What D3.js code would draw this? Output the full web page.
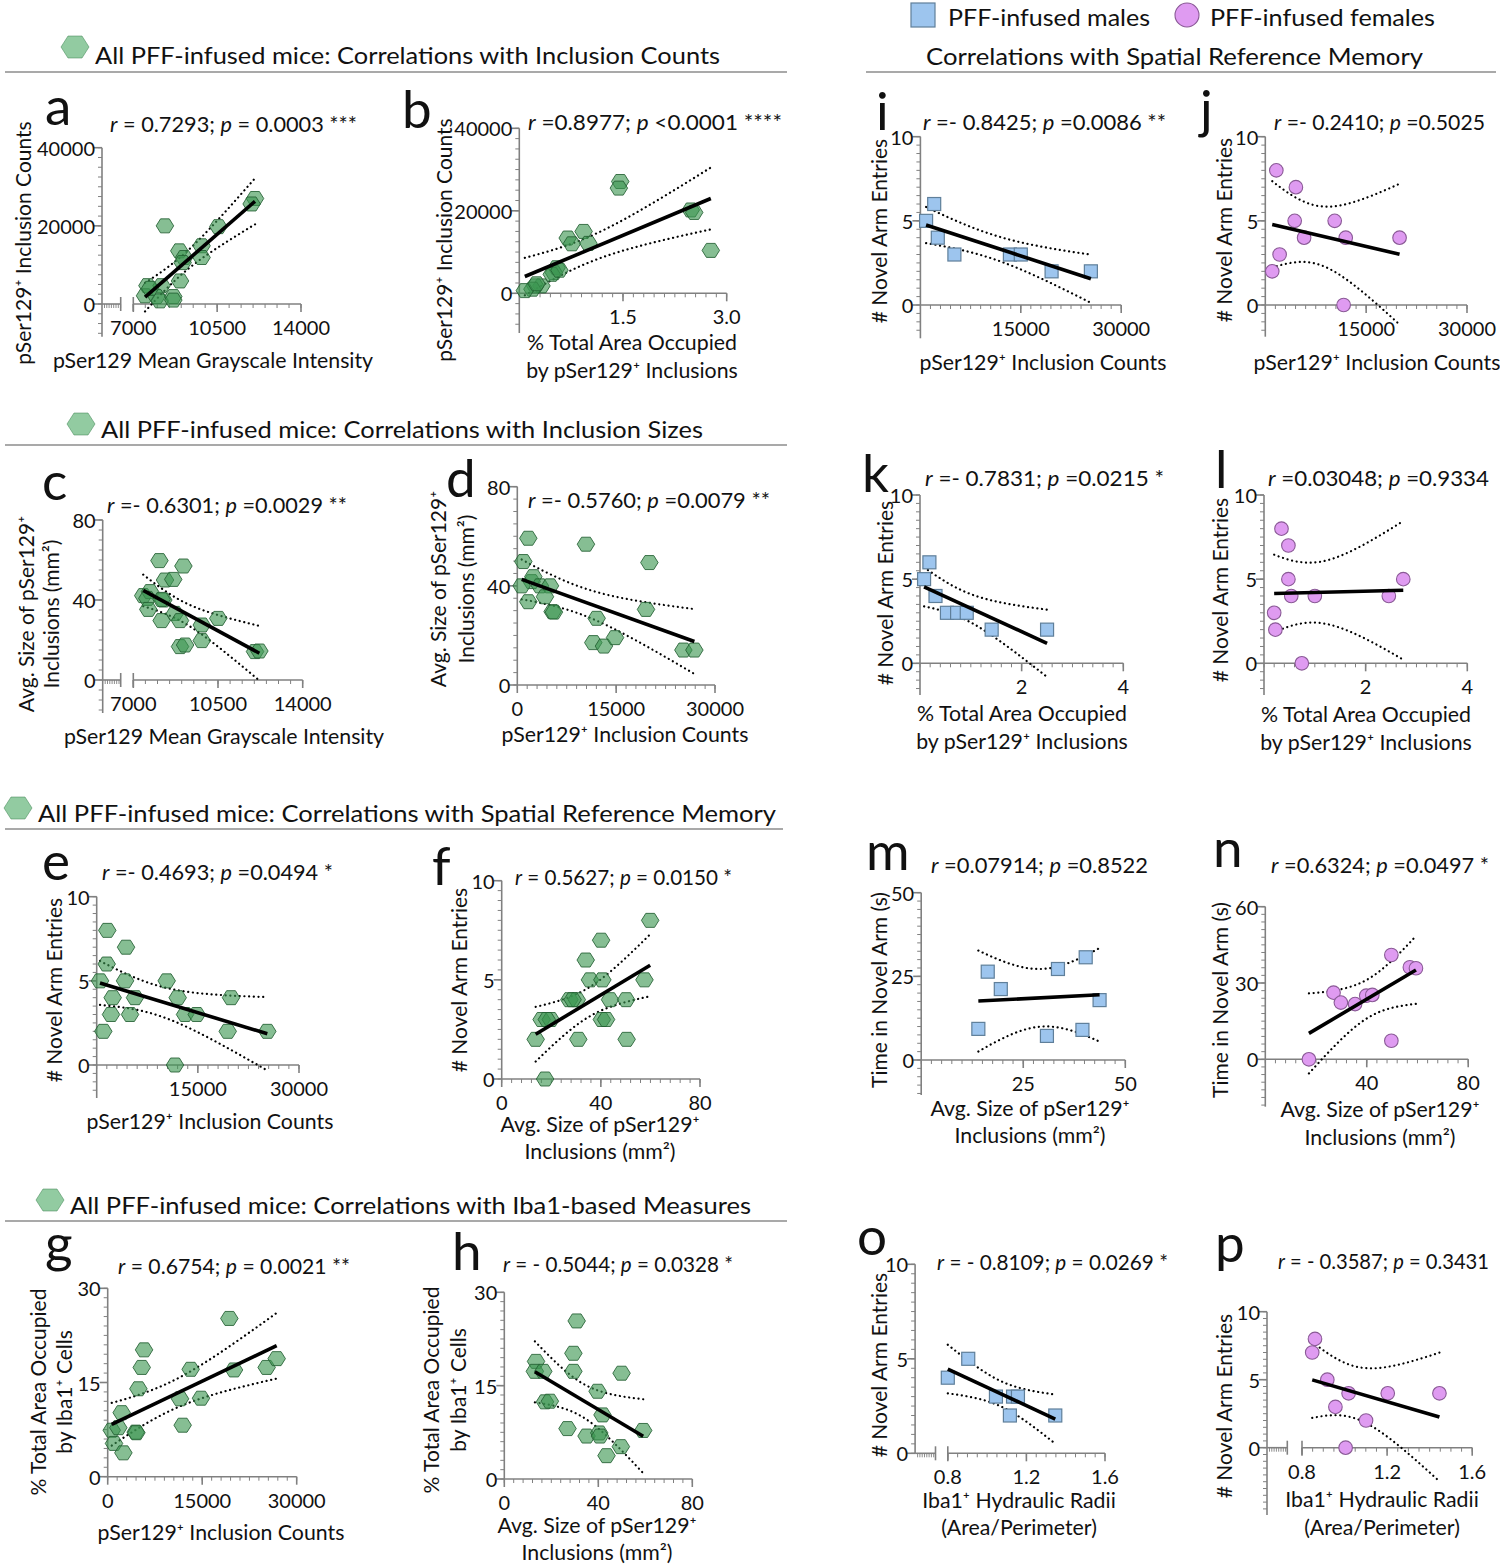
<!DOCTYPE html>
<html>
<head>
<meta charset="utf-8">
<script src="https://cdn.jsdelivr.net/npm/d3@7"></script>
<style>
  body { margin: 0; background: #fff; }
  svg text { font-family: Lato, "Open Sans", sans-serif; fill: #111; }
  .ax { stroke: #808080; stroke-width: 1.6; fill: none; }
</style>
</head>
<body>
<svg id="fig" width="1500" height="1565"></svg>
<script>
// ---- data ----
const aX = [12080, 11940, 8320, 10550, 9850, 8920, 9120, 9850, 9060, 8950, 7590, 8180, 7490, 7970, 8110, 8670, 8670, 7700];
const aY = [27000, 25600, 20000, 19800, 14900, 13600, 11900, 11900, 10600, 5900, 4700, 4700, 2100, 1900, 800, 1900, 1000, 4000];

const bX = [1.46, 1.44, 2.48, 2.53, 2.77, 0.93, 0.70, 0.76, 1.00, 0.54, 0.50, 0.47, 0.32, 0.23, 0.19, 0.08, 0.25, 0.58];
const bY = [27100, 25500, 20200, 19600, 10400, 15000, 13400, 12000, 12100, 6200, 5000, 4600, 1800, 1800, 1000, 650, 2300, 5600];

const cX = [8080, 9070, 8310, 8650, 7410, 7690, 7580, 8240, 8170, 7620, 8170, 8720, 8930, 9830, 10510, 9830, 8930, 9140, 12030, 12210];
const cY = [59.7, 57, 50, 50.3, 42.2, 44.2, 40.8, 40, 40.3, 35.3, 29.7, 33.3, 29.7, 27.5, 30.8, 19.7, 16.7, 17.5, 14.2, 14.5];

const dX = [1670, 10420, 20040, 910, 2180, 2430, 660, 1670, 3440, 4960, 4200, 5360, 5560, 12040, 11530, 13150, 14830, 19530, 25200, 26870];
const dY = [59.2, 56.8, 49.4, 49.8, 41.7, 43.7, 40, 33.6, 40, 40, 35.6, 29.6, 29.4, 26.9, 17.1, 15.7, 19.1, 30.5, 14.1, 14.1];

const eX = [1570, 4350, 1480, 490, 4200, 10380, 2370, 5680, 12010, 19920, 2120, 4940, 13100, 14830, 980, 19430, 25300, 11610];
const eY = [8, 7, 6, 5, 5, 5, 4, 4, 4, 4, 3, 3, 3, 3, 2, 2, 2, 0];

const fX = [59.9, 40.1, 33.9, 35.6, 40.6, 57.6, 27.3, 30.3, 28.6, 43.7, 50.2, 16.1, 19.8, 18.2, 40.4, 42.1, 13.7, 30.9, 50.4, 17.5];
const fY = [8, 7, 6, 5, 5, 5, 4, 4, 4, 4, 4, 3, 3, 3, 3, 3, 2, 2, 2, 0];

const gX = [19310, 5770, 5400, 13170, 20050, 25230, 26820, 4870, 11480, 14810, 2220, 640, 1690, 4440, 4550, 11900, 1000, 2490];
const gY = [25.2, 20.2, 17.4, 17.1, 17, 17.4, 18.8, 14, 12.4, 12.5, 10.2, 7.4, 7.8, 7.1, 7.0, 8.2, 5.3, 3.8];

const hX = [30.8, 29.4, 13.5, 13.0, 16.6, 29.4, 49.9, 39.7, 17.3, 19.4, 41.8, 26.9, 59.1, 35.0, 40.4, 40.7, 49.6, 43.5];
const hY = [25.4, 20.2, 18.9, 17.3, 17.3, 17.3, 17, 14.1, 12.4, 12.5, 10.3, 8.1, 7.8, 6.9, 7.4, 6.9, 5.2, 3.75];

const iX = [2060, 850, 2600, 5080, 13370, 15000, 19600, 25470];
const iY = [6, 5, 4, 3, 3, 3, 2, 2];

const jX = [1640, 4550, 4370, 10320, 5770, 11960, 19970, 2130, 1030, 11650];
const jY = [8, 7, 5, 5, 4, 4, 4, 3, 2, 0];

const kX = [0.185, 0.08, 0.305, 0.53, 0.73, 0.92, 1.41, 2.50];
const kY = [6, 5, 4, 3, 3, 3, 2, 2];

const lX = [0.344, 0.48, 0.48, 2.74, 0.536, 1.0, 2.456, 0.2, 0.224, 0.744];
const lY = [8, 7, 5, 5, 4, 4, 4, 3, 2, 0];

const mX = [14.0, 16.3, 19.5, 30.8, 33.5, 39.5, 40.3, 43.7];
const mY = [9.3, 26.4, 21.2, 7.2, 27.2, 9.0, 30.7, 17.9];

const nX = [17.2, 26.9, 29.8, 35.4, 39.8, 42.2, 49.7, 49.7, 57.0, 59.4];
const nY = [0, 26.2, 22.3, 21.7, 25.0, 25.3, 41.0, 7.3, 36.2, 35.8];

const oX = [0.80, 0.904, 1.045, 1.132, 1.157, 1.116, 1.347];
const oY = [4, 5, 3, 3, 3, 2, 2];

const pX = [0.861, 0.848, 0.919, 1.019, 1.203, 1.446, 0.957, 1.101, 1.005];
const pY = [8, 7, 5, 4, 4, 4, 3, 2, 0];

// tick labels
const ticksGray = [7000, 10500, 14000];
const ticksCounts = [0, 15000, 30000];
const ticksCountsNoZero = [15000, 30000];
const ticksCountsY = [0, 20000, 40000];
const ticksArea = [1.5, 3.0];
const ticksArea4 = [2, 4];
const ticksSize = [0, 40, 80];
const ticksSize50 = [25, 50];
const ticksSizeN = [40, 80];
const ticksEntries = [0, 5, 10];
const ticksIba = [0, 15, 30];
const ticksTime50 = [0, 25, 50];
const ticksTime60 = [0, 30, 60];
const ticksRadii = [0.8, 1.2, 1.6];

// two-sided 95% t values by df
const T975 = [NaN, 12.706, 4.303, 3.182, 2.776, 2.571, 2.447, 2.365, 2.306, 2.262, 2.228,
  2.201, 2.179, 2.160, 2.145, 2.131, 2.120, 2.110, 2.101, 2.093, 2.086, 2.080];

const svg = d3.select('#fig');

const C_HEX = 'rgba(60,150,80,0.62)', C_HEXS = 'rgba(35,95,50,0.85)';
const C_SQ = '#9dc5ee', C_SQS = '#5f7f9a';
const C_CI = '#df9bf1', C_CIS = '#8a5a96';

function hexPath(w, h) {
  return `M${-w/2},0L${-w/4},${-h/2}L${w/4},${-h/2}L${w/2},0L${w/4},${h/2}L${-w/4},${h/2}Z`;
}

function regress(xs, ys) {
  const n = xs.length, mx = d3.mean(xs), my = d3.mean(ys);
  let sxx = 0, sxy = 0;
  for (let i = 0; i < n; i++) { sxx += (xs[i]-mx)**2; sxy += (xs[i]-mx)*(ys[i]-my); }
  const b = sxy/sxx, a = my - b*mx;
  let sse = 0;
  for (let i = 0; i < n; i++) sse += (ys[i] - a - b*xs[i])**2;
  return {a, b, n, mx, sxx, s: Math.sqrt(sse/(n-2)), t: T975[n-2]};
}

function panel(p) {
  const g = svg.append('g');
  const x = d3.scaleLinear().domain(p.xd).range(p.xr);
  const y = d3.scaleLinear().domain(p.yd).range(p.yr);
  const ax = p.ax, y0 = y(0), yTop = y(p.yd[1]);
  const yBot = p.yBot || y0;

  // y axis
  g.append('line').attr('class','ax').attr('x1',ax).attr('x2',ax).attr('y1',yTop).attr('y2',yBot);
  const yLow = y.invert(yBot);
  const ym = d3.range(Math.ceil(yLow/p.ym - 1e-6)*p.ym, p.yd[1] + p.ym/2, p.ym);
  g.selectAll(null).data(ym).enter().append('line').attr('class','ax')
    .attr('x1', ax).attr('x2', ax-4).attr('y1', d => y(d)).attr('y2', d => y(d)).style('stroke-width',1);
  g.selectAll(null).data(p.yt).enter().append('line').attr('class','ax')
    .attr('x1', ax).attr('x2', ax-8).attr('y1', d => y(d)).attr('y2', d => y(d));
  g.selectAll(null).data(p.yt).enter().append('text')
    .attr('x', ax-7).attr('y', d => y(d)).attr('text-anchor','end').attr('dominant-baseline','central')
    .attr('font-size', 20).text(d => p.fy ? p.fy(d) : d);

  // x axis
  const xs0 = p.brk ? x(p.xd[0]) : ax;
  if (p.brk) {
    g.append('line').attr('class','ax').attr('x1',ax).attr('x2',p.brk).attr('y1',y0).attr('y2',y0);
    g.selectAll(null).data(d3.range(ax+2.5, p.brk, 2.3)).enter().append('line').attr('class','ax')
      .attr('x1', d => d).attr('x2', d => d).attr('y1', y0).attr('y2', y0+4).style('stroke-width',0.9);
    g.append('line').attr('class','ax').attr('x1',p.brk).attr('x2',p.brk).attr('y1',y0-7).attr('y2',y0+7);
    g.append('line').attr('class','ax').attr('x1',xs0).attr('x2',xs0).attr('y1',y0-7).attr('y2',y0+7);
  }
  g.append('line').attr('class','ax').attr('x1',xs0).attr('x2',x(p.xd[1])).attr('y1',y0).attr('y2',y0);
  const xm = d3.range(Math.ceil(p.xd[0]/p.xm - 1e-6)*p.xm, p.xd[1] + p.xm/2, p.xm)
    .filter(d => x(d) >= xs0 - 0.5);
  g.selectAll(null).data(xm).enter().append('line').attr('class','ax')
    .attr('x1', d => x(d)).attr('x2', d => x(d)).attr('y1', y0).attr('y2', y0+4).style('stroke-width',1);
  g.selectAll(null).data(p.xt).enter().append('line').attr('class','ax')
    .attr('x1', d => x(d)).attr('x2', d => x(d)).attr('y1', y0).attr('y2', y0+8);
  g.selectAll(null).data(p.xt).enter().append('text')
    .attr('x', d => x(d)).attr('y', y0+23).attr('text-anchor','middle').attr('dominant-baseline','central')
    .attr('font-size', 20).text(d => p.fx ? p.fx(d) : d);

  // regression line with 95% confidence band
  const r = regress(p.xs, p.ys);
  const [lo, hi] = d3.extent(p.xs);
  const samp = d3.range(0, 41).map(i => lo + (hi-lo)*i/40);
  const band = (xv, sgn) => r.a + r.b*xv + sgn*r.t*r.s*Math.sqrt(1/r.n + (xv-r.mx)**2/r.sxx);
  const ln = d3.line().x(d => x(d[0])).y(d => y(d[1]));
  [1, -1].forEach(sgn => {
    g.append('path').attr('d', ln(samp.map(v => [v, band(v, sgn)])))
      .attr('fill','none').attr('stroke','#000').attr('stroke-width',2.2)
      .attr('stroke-linecap','round').attr('stroke-dasharray','0.1,4.6');
  });

  // markers
  const pts = p.xs.map((v, i) => [v, p.ys[i]]);
  if (p.mk === 'hex') {
    g.selectAll(null).data(pts).enter().append('path')
      .attr('d', hexPath(17.5, 14)).attr('transform', d => `translate(${x(d[0])},${y(d[1])})`)
      .attr('fill', C_HEX).attr('stroke', C_HEXS).attr('stroke-width', 1);
  } else if (p.mk === 'sq') {
    g.selectAll(null).data(pts).enter().append('rect')
      .attr('x', d => x(d[0]) - 6.5).attr('y', d => y(d[1]) - 6.5).attr('width', 13).attr('height', 13)
      .attr('fill', C_SQ).attr('stroke', C_SQS).attr('stroke-width', 1.2);
  } else {
    g.selectAll(null).data(pts).enter().append('circle')
      .attr('cx', d => x(d[0])).attr('cy', d => y(d[1])).attr('r', 6.8)
      .attr('fill', C_CI).attr('stroke', C_CIS).attr('stroke-width', 1.1);
  }
  g.append('path').attr('d', ln([[lo, r.a + r.b*lo], [hi, r.a + r.b*hi]]))
    .attr('stroke','#000').attr('stroke-width',3.6).attr('fill','none');

  // panel letter
  g.append('text').attr('x', p.let[0]).attr('y', p.let[1]).attr('font-size', 53).text(p.id);

  // statistics
  const st = g.append('text').attr('x', p.st[0]).attr('y', p.st[1]).attr('dominant-baseline','central')
    .attr('font-size', 20.5).attr('textLength', p.st[2]).attr('lengthAdjust','spacingAndGlyphs');
  st.append('tspan').attr('font-style','italic').text('r');
  st.append('tspan').text(' ' + p.stat[0] + ' ');
  st.append('tspan').attr('font-style','italic').text('p');
  st.append('tspan').text(' ' + p.stat[1]);

  // axis titles
  p.yTitle.forEach(([tx, s]) => {
    g.append('text').attr('transform', `translate(${tx},${p.yTitleY}) rotate(-90)`)
      .attr('text-anchor','middle').attr('dominant-baseline','central').attr('font-size', 21).text(s);
  });
  p.xTitle.forEach((s, i) => {
    g.append('text').attr('x', p.xTitleX).attr('y', p.xTitleYs[i])
      .attr('text-anchor','middle').attr('dominant-baseline','central').attr('font-size', 21.3).text(s);
  });
}

const f1 = d3.format('.1f');
const T_COUNTS = 'pSer129⁺ Inclusion Counts';
const T_GRAY = 'pSer129 Mean Grayscale Intensity';
const T_AREA = ['% Total Area Occupied', 'by pSer129⁺ Inclusions'];
const T_SIZE = ['Avg. Size of pSer129⁺', 'Inclusions (mm²)'];
const T_ENTR = '# Novel Arm Entries';
const T_IBA = ['% Total Area Occupied', 'by Iba1⁺ Cells'];
const T_RAD = ['Iba1⁺ Hydraulic Radii', '(Area/Perimeter)'];

const panels = [
  {id:'a', xs:aX, ys:aY, mk:'hex', xd:[7000,14000], xr:[133.3,301], yd:[0,40000], yr:[304,147.7], ax:102, yBot:336.7, brk:120.7,
   xt:ticksGray, yt:ticksCountsY, xm:500, ym:2500, let:[45,125], stat:['= 0.7293;','= 0.0003 ***'], st:[110,124,247],
   yTitle:[[22,T_COUNTS]], yTitleY:243, xTitle:[T_GRAY], xTitleX:213, xTitleYs:[360]},
  {id:'b', xs:bX, ys:bY, mk:'hex', xd:[0,3], xr:[519.3,726.7], yd:[0,40000], yr:[293.3,128.3], ax:519.3, yBot:333,
   xt:ticksArea, yt:ticksCountsY, xm:0.15, ym:2500, fx:f1, let:[402,128], stat:['=0.8977; ','<0.0001 ****'], st:[528,122,254],
   yTitle:[[443,T_COUNTS]], yTitleY:240, xTitle:T_AREA, xTitleX:632, xTitleYs:[342,370]},
  {id:'c', xs:cX, ys:cY, mk:'hex', xd:[7000,14000], xr:[133.3,302.7], yd:[0,80], yr:[680,520], ax:102.7, yBot:713, brk:120.7,
   xt:ticksGray, yt:ticksSize, xm:500, ym:5, let:[42,500], stat:['=- 0.6301;','=0.0029 **'], st:[107,505,240],
   yTitle:[[25,T_SIZE[0]],[50,T_SIZE[1]]], yTitleY:614, xTitle:[T_GRAY], xTitleX:224, xTitleYs:[736]},
  {id:'d', xs:dX, ys:dY, mk:'hex', xd:[0,30000], xr:[517.3,715], yd:[0,80], yr:[685,486.7], ax:517.3,
   xt:ticksCounts, yt:ticksSize, xm:1500, ym:5, let:[446,497], stat:['=- 0.5760; ','=0.0079 **'], st:[528,500,242],
   yTitle:[[437,T_SIZE[0]],[465,T_SIZE[1]]], yTitleY:589, xTitle:[T_COUNTS], xTitleX:625, xTitleYs:[734]},
  {id:'e', xs:eX, ys:eY, mk:'hex', xd:[0,30000], xr:[96.7,299], yd:[0,10], yr:[1065,896.7], ax:96.7, yBot:1098,
   xt:ticksCountsNoZero, yt:ticksEntries, xm:1500, ym:0.5, let:[42,880], stat:['=- 0.4693; ','=0.0494 *'], st:[102,872,231],
   yTitle:[[53,T_ENTR]], yTitleY:990, xTitle:[T_COUNTS], xTitleX:210, xTitleYs:[1121]},
  {id:'f', xs:fX, ys:fY, mk:'hex', xd:[0,80], xr:[501.7,700], yd:[0,10], yr:[1079,880.7], ax:501.7,
   xt:ticksSize, yt:ticksEntries, xm:4, ym:0.5, let:[432,885], stat:['= 0.5627;','= 0.0150 *'], st:[515,877,217],
   yTitle:[[458,T_ENTR]], yTitleY:980, xTitle:T_SIZE, xTitleX:600, xTitleYs:[1124,1151]},
  {id:'g', xs:gX, ys:gY, mk:'hex', xd:[0,30000], xr:[107.7,296.7], yd:[0,30], yr:[1476.7,1288.3], ax:107.7,
   xt:ticksCounts, yt:ticksIba, xm:1500, ym:1.5, let:[45,1262], stat:['= 0.6754;','= 0.0021 **'], st:[118,1266,232],
   yTitle:[[37,T_IBA[0]],[63,T_IBA[1]]], yTitleY:1392, xTitle:[T_COUNTS], xTitleX:221, xTitleYs:[1532]},
  {id:'h', xs:hX, ys:hY, mk:'hex', xd:[0,80], xr:[504.3,692.3], yd:[0,30], yr:[1479,1292.3], ax:504.3,
   xt:ticksSize, yt:ticksIba, xm:4, ym:1.5, let:[452,1270], stat:['= - 0.5044;','= 0.0328 *'], st:[503,1264,230],
   yTitle:[[430,T_IBA[0]],[457,T_IBA[1]]], yTitleY:1390, xTitle:T_SIZE, xTitleX:597, xTitleYs:[1525,1552]},
  {id:'i', xs:iX, ys:iY, mk:'sq', xd:[0,30000], xr:[920.4,1121.2], yd:[0,10], yr:[305,136.7], ax:920.4, yBot:338.3,
   xt:ticksCountsNoZero, yt:ticksEntries, xm:1500, ym:0.5, let:[876,130], stat:['=- 0.8425;','=0.0086 **'], st:[923,122,243],
   yTitle:[[878,T_ENTR]], yTitleY:231, xTitle:[T_COUNTS], xTitleX:1043, xTitleYs:[362]},
  {id:'j', xs:jX, ys:jY, mk:'ci', xd:[0,30000], xr:[1265.3,1467], yd:[0,10], yr:[305,136.7], ax:1265.3, yBot:336.7,
   xt:ticksCountsNoZero, yt:ticksEntries, xm:1500, ym:0.5, let:[1200,128], stat:['=- 0.2410;','=0.5025'], st:[1274,122,211],
   yTitle:[[1223,T_ENTR]], yTitleY:230, xTitle:[T_COUNTS], xTitleX:1377, xTitleYs:[362]},
  {id:'k', xs:kX, ys:kY, mk:'sq', xd:[0,4], xr:[920,1123.3], yd:[0,10], yr:[663.3,495], ax:920, yBot:695,
   xt:ticksArea4, yt:ticksEntries, xm:0.2, ym:0.5, let:[862,492], stat:['=- 0.7831; ','=0.0215 *'], st:[925,478,239],
   yTitle:[[884,T_ENTR]], yTitleY:593, xTitle:T_AREA, xTitleX:1022, xTitleYs:[713,741]},
  {id:'l', xs:lX, ys:lY, mk:'ci', xd:[0,4], xr:[1264,1467.3], yd:[0,10], yr:[663.3,495], ax:1264, yBot:695,
   xt:ticksArea4, yt:ticksEntries, xm:0.2, ym:0.5, let:[1215,488], stat:['=0.03048; ','=0.9334'], st:[1268,478,221],
   yTitle:[[1219,T_ENTR]], yTitleY:590, xTitle:T_AREA, xTitleX:1366, xTitleYs:[714,742]},
  {id:'m', xs:mX, ys:mY, mk:'sq', xd:[0,50], xr:[921.2,1125.3], yd:[0,50], yr:[1060,892.7], ax:921.2, yBot:1095,
   xt:ticksSize50, yt:ticksTime50, xm:2.5, ym:2.5, let:[866,870], stat:['=0.07914; ','=0.8522'], st:[931,865,217],
   yTitle:[[878,'Time in Novel Arm (s)']], yTitleY:990, xTitle:T_SIZE, xTitleX:1030, xTitleYs:[1108,1135]},
  {id:'n', xs:nX, ys:nY, mk:'ci', xd:[0,80], xr:[1265.3,1468.2], yd:[0,60], yr:[1059.3,906.7], ax:1265.3, yBot:1106.7,
   xt:ticksSizeN, yt:ticksTime60, xm:4, ym:3, let:[1213,867], stat:['=0.6324;','=0.0497 *'], st:[1271,865,218],
   yTitle:[[1219,'Time in Novel Arm (s)']], yTitleY:1000, xTitle:T_SIZE, xTitleX:1380, xTitleYs:[1109,1137]},
  {id:'o', xs:oX, ys:oY, mk:'sq', xd:[0.8,1.6], xr:[947.8,1105], yd:[0,10], yr:[1453.3,1264.3], ax:915.1, brk:935.5,
   xt:ticksRadii, yt:ticksEntries, xm:0.05, ym:0.5, fx:f1, let:[857,1255], stat:['= - 0.8109;','= 0.0269 *'], st:[937,1262,231],
   yTitle:[[878,T_ENTR]], yTitleY:1365, xTitle:T_RAD, xTitleX:1019, xTitleYs:[1500,1527]},
  {id:'p', xs:pX, ys:pY, mk:'ci', xd:[0.8,1.6], xr:[1302,1472.2], yd:[0,10], yr:[1447.7,1311.7], ax:1267, yBot:1515, brk:1287.3,
   xt:ticksRadii, yt:ticksEntries, xm:0.05, ym:0.5, fx:f1, let:[1215,1262], stat:['= - 0.3587;','= 0.3431'], st:[1278,1261,211],
   yTitle:[[1223,T_ENTR]], yTitleY:1406, xTitle:T_RAD, xTitleX:1382, xTitleYs:[1499,1527]}
];

panels.forEach(panel);

// section headers
const headers = [
  {icon:[75,47], x:95, y:54, w:625, line:[5,787,72], s:'All PFF-infused mice: Correlations with Inclusion Counts'},
  {icon:[81,424], x:101, y:428, w:602, line:[5,787,445], s:'All PFF-infused mice: Correlations with Inclusion Sizes'},
  {icon:[18,808], x:38, y:812, w:738, line:[5,783,829], s:'All PFF-infused mice: Correlations with Spatial Reference Memory'},
  {icon:[50,1200], x:70, y:1204, w:681, line:[5,787,1221], s:'All PFF-infused mice: Correlations with Iba1-based Measures'}
];
headers.forEach(h => {
  svg.append('path').attr('d', hexPath(28, 22)).attr('transform', `translate(${h.icon[0]},${h.icon[1]})`)
    .attr('fill', 'rgba(110,185,130,0.75)').attr('stroke', 'rgba(60,130,80,0.5)').attr('stroke-width', 1);
  svg.append('text').attr('x', h.x).attr('y', h.y).attr('dominant-baseline','central').attr('font-size', 24)
    .attr('textLength', h.w).attr('lengthAdjust','spacingAndGlyphs').text(h.s);
  svg.append('line').attr('x1', h.line[0]).attr('x2', h.line[1]).attr('y1', h.line[2]).attr('y2', h.line[2])
    .attr('stroke', '#555').attr('stroke-width', 1.2);
});

// right-hand legend and header
svg.append('rect').attr('x', 911).attr('y', 3).attr('width', 24).attr('height', 24)
  .attr('fill', C_SQ).attr('stroke', C_SQS).attr('stroke-width', 1.2);
svg.append('text').attr('x', 948).attr('y', 16).attr('dominant-baseline','central').attr('font-size', 24)
  .attr('textLength', 202).attr('lengthAdjust','spacingAndGlyphs').text('PFF-infused males');
svg.append('circle').attr('cx', 1187).attr('cy', 15).attr('r', 12)
  .attr('fill', C_CI).attr('stroke', C_CIS).attr('stroke-width', 1.1);
svg.append('text').attr('x', 1210).attr('y', 16).attr('dominant-baseline','central').attr('font-size', 24)
  .attr('textLength', 225).attr('lengthAdjust','spacingAndGlyphs').text('PFF-infused females');
svg.append('text').attr('x', 926).attr('y', 55).attr('dominant-baseline','central').attr('font-size', 24)
  .attr('textLength', 497).attr('lengthAdjust','spacingAndGlyphs').text('Correlations with Spatial Reference Memory');
svg.append('line').attr('x1', 866).attr('x2', 1496).attr('y1', 72).attr('y2', 72)
  .attr('stroke', '#555').attr('stroke-width', 1.2);
</script>
</body>
</html>
